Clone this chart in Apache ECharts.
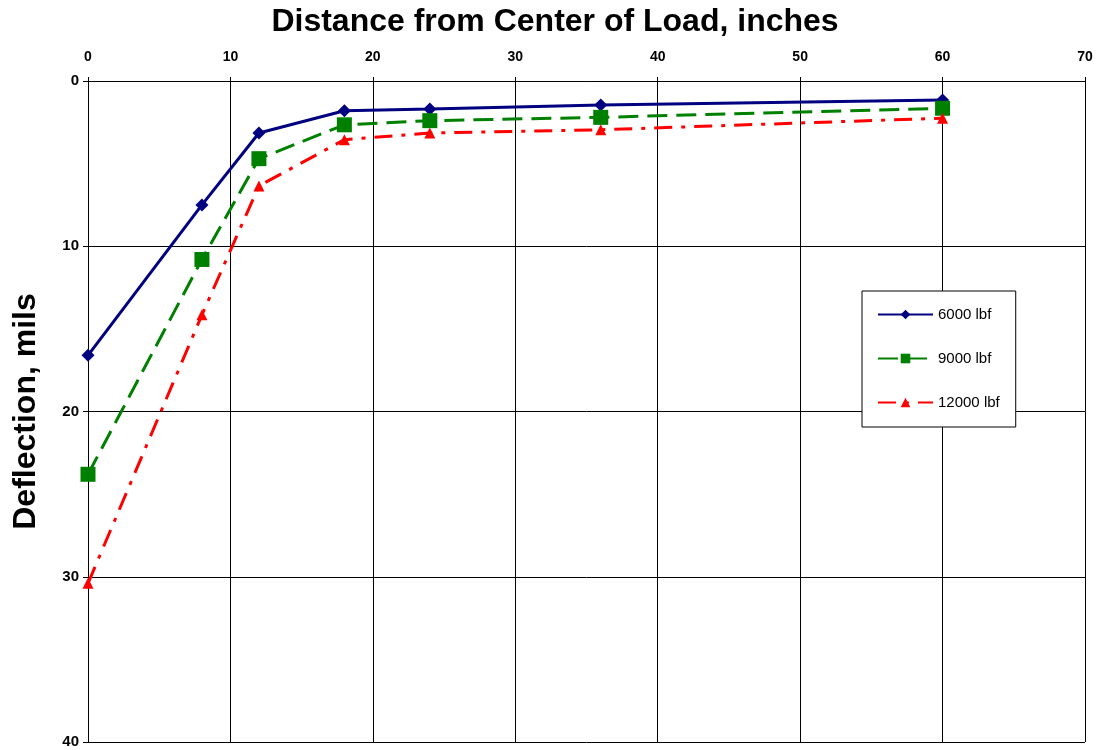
<!DOCTYPE html>
<html>
<head>
<meta charset="utf-8">
<script src="https://cdn.jsdelivr.net/npm/echarts@6/dist/echarts.min.js"></script>
<style>
  html, body { margin: 0; padding: 0; background: #fff; }
  #chart { width: 1107px; height: 750px; }
</style>
</head>
<body>
<div id="chart"></div>
<script>
// distance from load centre, inches
var distances = [0, 8, 12, 18, 24, 36, 60];
// deflections, mils
var defl6000 = [16.6, 7.5, 3.15, 1.8, 1.7, 1.45, 1.15];
var defl9000 = [23.8, 10.8, 4.7, 2.65, 2.4, 2.2, 1.65];
var defl12000 = [30.4, 14.15, 6.35, 3.55, 3.15, 2.95, 2.25];
var seriesNames = ['6000 lbf', '9000 lbf', '12000 lbf'];

function pairs(ys) {
  return distances.map(function (x, i) { return [x, ys[i]]; });
}

var font = 'Liberation Sans, Arial, sans-serif';
var myChart = echarts.init(document.getElementById('chart'));

myChart.setOption({
  animation: false,
  backgroundColor: '#fff',
  title: {
    text: 'Distance from Center of Load, inches',
    left: 550, top: 1, textAlign: 'center',
    textStyle: { fontFamily: font, fontSize: 32, fontWeight: 'bold', color: '#000' }
  },
  grid: { left: 88, top: 81, right: 22, bottom: 8, show: false, outerBoundsMode: 'none' },
  legend: {
    orient: 'vertical',
    left: 862, top: 291,
    padding: [16, 16, 17, 15],
    itemGap: 29,
    itemWidth: 55, itemHeight: 12,
    backgroundColor: '#fff',
    borderColor: '#000', borderWidth: 1, borderRadius: 0,
    textStyle: { fontFamily: font, fontSize: 15, color: '#000' },
    data: seriesNames
  },
  xAxis: {
    type: 'value', position: 'top',
    min: 0, max: 70, interval: 10,
    axisLine: { show: true, lineStyle: { color: '#000', width: 1 } },
    axisTick: { show: true, inside: false, length: 4, lineStyle: { color: '#000' } },
    axisLabel: { fontFamily: font, fontSize: 14, fontWeight: 'bold', color: '#000', margin: 17 },
    splitLine: { show: true, lineStyle: { color: '#000', width: 1 } }
  },
  yAxis: {
    type: 'value', inverse: true,
    min: 0, max: 40, interval: 10,
    name: 'Deflection, mils',
    nameLocation: 'middle', nameGap: 46, nameRotate: 90,
    nameTextStyle: { fontFamily: font, fontSize: 32, fontWeight: 'bold', color: '#000' },
    axisLine: { show: true, lineStyle: { color: '#000', width: 1 } },
    axisTick: { show: true, inside: false, length: 5, lineStyle: { color: '#000' } },
    axisLabel: { fontFamily: font, fontSize: 15, fontWeight: 'bold', color: '#000', margin: 9 },
    splitLine: { show: true, lineStyle: { color: '#000', width: 1 } }
  },
  series: [
    {
      name: seriesNames[0], type: 'line', data: pairs(defl6000),
      color: '#000080', symbol: 'diamond', symbolSize: 13,
      lineStyle: { color: '#000080', width: 3, type: 'solid' },
      itemStyle: { color: '#000080' }
    },
    {
      name: seriesNames[1], type: 'line', data: pairs(defl9000),
      color: '#008000', symbol: 'rect', symbolSize: 15,
      lineStyle: { color: '#008000', width: 3, type: [20, 9] },
      itemStyle: { color: '#008000' }
    },
    {
      name: seriesNames[2], type: 'line', data: pairs(defl12000),
      color: '#ff0000', symbol: 'triangle', symbolSize: 11,
      lineStyle: { color: '#ff0000', width: 3, type: [18, 9, 4, 9] },
      itemStyle: { color: '#ff0000' }
    }
  ]
});
</script>
</body>
</html>
